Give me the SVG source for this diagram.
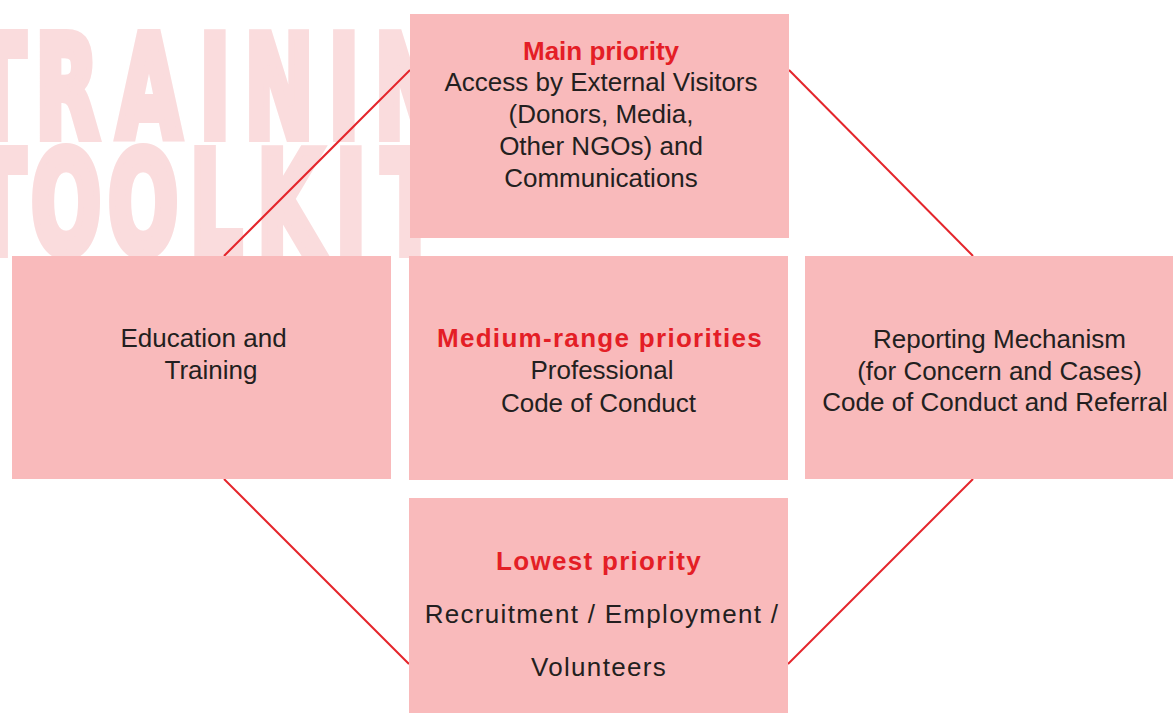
<svg xmlns="http://www.w3.org/2000/svg" width="1173" height="713" viewBox="0 0 1173 713">
  <style>
    .box { fill: #f9babb; }
    .link { stroke: #e4252b; stroke-width: 2; fill: none; }
    .head { font-family: "Liberation Sans", Arial, sans-serif; font-weight: bold; font-size: 26px; fill: #e41e26; text-anchor: middle; }
    .body { font-family: "Liberation Sans", Arial, sans-serif; font-size: 26px; fill: #231f20; text-anchor: middle; }
    .spaced { letter-spacing: 1.3px; }
    .mark { font-family: "DejaVu Sans", "Liberation Sans", sans-serif; font-weight: bold; font-size: 140px; fill: #fadcdd; stroke: #fadcdd; stroke-width: 10; stroke-linejoin: miter; text-anchor: middle; }
  </style>

  <rect width="1173" height="713" fill="#ffffff"/>

  <!-- faded background lettering -->
  <g id="watermark" transform="scale(0.59,1)">
    <text class="mark" x="-5 113.6 252.5 364.4 472.9 583 693.2 830.5" y="137">TRAINING</text>
    <text class="mark" x="-5 111.9 242.4 366.1 489.8 594.9 694.9" y="253">TOOLKIT</text>
  </g>

  <!-- diagonal connectors between the outer boxes -->
  <g id="connectors">
    <line class="link" x1="224" y1="256" x2="410" y2="70"/>
    <line class="link" x1="789" y1="70" x2="973" y2="256"/>
    <line class="link" x1="973" y1="479" x2="788" y2="664"/>
    <line class="link" x1="224" y1="479" x2="409" y2="664"/>
  </g>

  <g id="main-priority">
    <rect class="box" x="410" y="14" width="379" height="224"/>
    <text class="head" x="601" y="60">Main priority</text>
    <text class="body" x="601" y="91">Access by External Visitors</text>
    <text class="body" x="601" y="123">(Donors, Media,</text>
    <text class="body" x="601" y="155">Other NGOs) and</text>
    <text class="body" x="601" y="187">Communications</text>
  </g>

  <g id="education">
    <rect class="box" x="12" y="256" width="379" height="223"/>
    <text class="body" x="203.5" y="347">Education and</text>
    <text class="body" x="211" y="379">Training</text>
  </g>

  <g id="medium-priorities">
    <rect class="box" x="409" y="256" width="379" height="224"/>
    <text class="head spaced" x="600" y="347">Medium-range priorities</text>
    <text class="body" x="602" y="379">Professional</text>
    <text class="body" x="598.5" y="412">Code of Conduct</text>
  </g>

  <g id="reporting">
    <rect class="box" x="805" y="256" width="390" height="223"/>
    <text class="body" x="999.5" y="348">Reporting Mechanism</text>
    <text class="body" x="999.5" y="380">(for Concern and Cases)</text>
    <text class="body" x="995" y="411">Code of Conduct and Referral</text>
  </g>

  <g id="lowest-priority">
    <rect class="box" x="409" y="498" width="379" height="220"/>
    <text class="head spaced" x="599" y="570">Lowest priority</text>
    <text class="body spaced" x="602" y="623">Recruitment / Employment /</text>
    <text class="body spaced" x="599" y="676">Volunteers</text>
  </g>
</svg>
